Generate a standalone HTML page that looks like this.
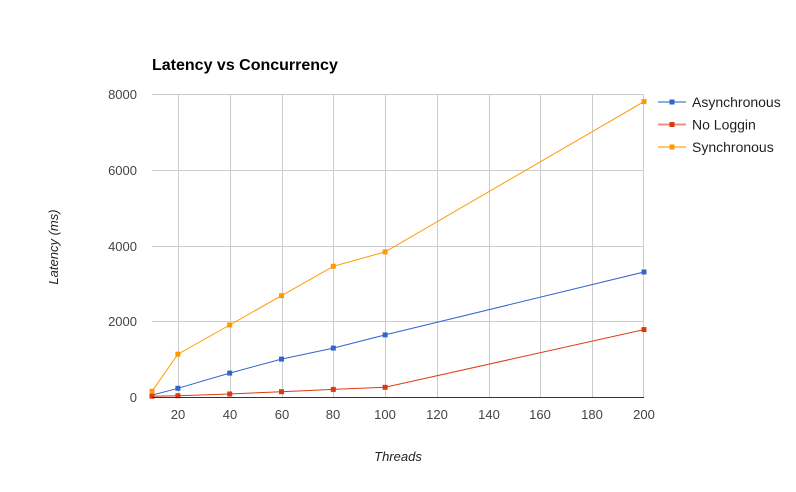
<!DOCTYPE html>
<html><head><meta charset="utf-8"><style>
html,body{margin:0;padding:0;background:#fff;}
svg{display:block;}
text{font-family:"Liberation Sans",Arial,sans-serif;}
</style></head><body>
<svg width="796" height="492" viewBox="0 0 796 492" xmlns="http://www.w3.org/2000/svg">
<rect width="796" height="492" fill="#fff"/>
<text x="152" y="70" font-size="16" font-weight="bold" fill="#000">Latency vs Concurrency</text>
<g stroke="#cccccc" stroke-width="1" shape-rendering="crispEdges">
<line x1="152" y1="94.5" x2="644" y2="94.5"/>
<line x1="152" y1="170.5" x2="644" y2="170.5"/>
<line x1="152" y1="246.5" x2="644" y2="246.5"/>
<line x1="152" y1="321.5" x2="644" y2="321.5"/>
<line x1="178.5" y1="94" x2="178.5" y2="397"/>
<line x1="230.5" y1="94" x2="230.5" y2="397"/>
<line x1="282.5" y1="94" x2="282.5" y2="397"/>
<line x1="333.5" y1="94" x2="333.5" y2="397"/>
<line x1="385.5" y1="94" x2="385.5" y2="397"/>
<line x1="437.5" y1="94" x2="437.5" y2="397"/>
<line x1="489.5" y1="94" x2="489.5" y2="397"/>
<line x1="540.5" y1="94" x2="540.5" y2="397"/>
<line x1="592.5" y1="94" x2="592.5" y2="397"/>
<line x1="643.5" y1="94" x2="643.5" y2="397"/>
</g>
<g font-size="13" fill="#444" text-anchor="end">
<text x="137" y="99">8000</text>
<text x="137" y="175">6000</text>
<text x="137" y="251">4000</text>
<text x="137" y="326">2000</text>
<text x="137" y="402">0</text>
</g>
<g font-size="13" fill="#444" text-anchor="middle">
<text x="178" y="419">20</text>
<text x="230" y="419">40</text>
<text x="282" y="419">60</text>
<text x="333" y="419">80</text>
<text x="385" y="419">100</text>
<text x="437" y="419">120</text>
<text x="489" y="419">140</text>
<text x="540" y="419">160</text>
<text x="592" y="419">180</text>
<text x="644" y="419">200</text>
</g>
<text x="398" y="461" font-size="13" font-style="italic" fill="#222" text-anchor="middle">Threads</text>
<text transform="translate(58,247) rotate(-90)" font-size="13" font-style="italic" fill="#222" text-anchor="middle">Latency (ms)</text>
<!-- Asynchronous -->
<polyline fill="none" stroke="#3366cc" stroke-width="1" points="152,395.1 177.9,388.3 229.7,373.1 281.5,359.1 333.3,348.1 385.1,334.9 644,272"/>
<g fill="#3366cc">
<rect x="149.5" y="392.6" width="5" height="5"/>
<rect x="175.4" y="385.8" width="5" height="5"/>
<rect x="227.2" y="370.6" width="5" height="5"/>
<rect x="279" y="356.6" width="5" height="5"/>
<rect x="330.8" y="345.6" width="5" height="5"/>
<rect x="382.6" y="332.4" width="5" height="5"/>
<rect x="641.5" y="269.5" width="5" height="5"/>
</g>
<!-- No Loggin -->
<polyline fill="none" stroke="#dc3912" stroke-width="1" points="152,396.2 177.9,395.7 229.7,394 281.5,391.7 333.3,389.4 385.1,387.3 644,329.6"/>
<g fill="#dc3912">
<rect x="149.5" y="393.7" width="5" height="5"/>
<rect x="175.4" y="393.2" width="5" height="5"/>
<rect x="227.2" y="391.5" width="5" height="5"/>
<rect x="279" y="389.2" width="5" height="5"/>
<rect x="330.8" y="386.9" width="5" height="5"/>
<rect x="382.6" y="384.8" width="5" height="5"/>
<rect x="641.5" y="327.1" width="5" height="5"/>
</g>
<!-- Synchronous -->
<polyline fill="none" stroke="#ff9900" stroke-width="1" points="152,391.3 177.9,354.2 229.7,325 281.5,295.7 333.3,266.3 385.1,251.9 644,101.6"/>
<g fill="#ff9900">
<rect x="149.5" y="388.8" width="5" height="5"/>
<rect x="175.4" y="351.7" width="5" height="5"/>
<rect x="227.2" y="322.5" width="5" height="5"/>
<rect x="279" y="293.2" width="5" height="5"/>
<rect x="330.8" y="263.8" width="5" height="5"/>
<rect x="382.6" y="249.4" width="5" height="5"/>
<rect x="641.5" y="99.1" width="5" height="5"/>
</g>
<line x1="152" y1="397.5" x2="644" y2="397.5" stroke="#333" stroke-width="1" shape-rendering="crispEdges"/>
<!-- Legend -->
<g stroke-width="2">
<line x1="658" y1="102" x2="686" y2="102" stroke="#3366cc" stroke-opacity="0.55"/>
<line x1="658" y1="124.5" x2="686" y2="124.5" stroke="#dc3912" stroke-opacity="0.55"/>
<line x1="658" y1="147" x2="686" y2="147" stroke="#ff9900" stroke-opacity="0.55"/>
</g>
<rect x="669.5" y="99.5" width="5" height="5" fill="#3366cc"/>
<rect x="669.5" y="122" width="5" height="5" fill="#dc3912"/>
<rect x="669.5" y="144.5" width="5" height="5" fill="#ff9900"/>
<g font-size="14" fill="#222">
<text x="692" y="107">Asynchronous</text>
<text x="692" y="129.5">No Loggin</text>
<text x="692" y="152">Synchronous</text>
</g>
</svg>
</body></html>
